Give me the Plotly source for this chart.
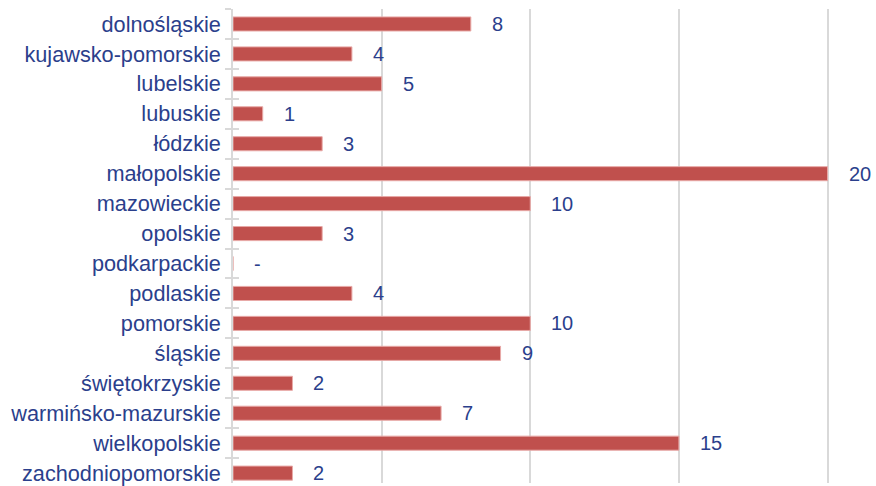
import plotly.graph_objects as go

categories = ["dolnośląskie", "kujawsko-pomorskie", "lubelskie", "lubuskie", "łódzkie",
              "małopolskie", "mazowieckie", "opolskie", "podkarpackie", "podlaskie",
              "pomorskie", "śląskie", "świętokrzyskie", "warmińsko-mazurskie",
              "wielkopolskie", "zachodniopomorskie"]
values = [8, 4, 5, 1, 3, 20, 10, 3, 0, 4, 10, 9, 2, 7, 15, 2]
value_labels = ["8", "4", "5", "1", "3", "20", "10", "3", "-", "4", "10", "9", "2", "7", "15", "2"]

TEXT = "#2b3f8c"
BAR = "#c0504d"
GRID = "#d9d9d9"
FONT = "Liberation Sans, Arial, sans-serif"
YRANGE = [15.33, -0.5]

fig = go.Figure()
fig.add_trace(go.Bar(
    y=categories, x=values, orientation="h", width=0.47,
    marker=dict(color=BAR, line=dict(color="#e8a9a7", width=1)),
    hoverinfo="x+y",
))
# invisible companion trace so the inner half of the crossing tick marks can be drawn
fig.add_trace(go.Scatter(y=categories, x=values, mode="none", yaxis="y2",
                         hoverinfo="skip", showlegend=False))

for cat, v, lab in zip(categories, values, value_labels):
    fig.add_annotation(x=v, y=cat, xref="x", yref="y", text=lab, showarrow=False,
                       xanchor="left", yanchor="middle", xshift=19,
                       font=dict(family=FONT, size=20, color=TEXT))

fig.update_layout(
    width=876, height=486,
    margin=dict(l=233, r=0, t=9, b=0),
    paper_bgcolor="white", plot_bgcolor="white",
    showlegend=False,
    font=dict(family=FONT, size=20, color=TEXT),
    xaxis=dict(range=[0, 21.63], dtick=5, tick0=0, showgrid=True, gridcolor=GRID,
               gridwidth=1.5, showticklabels=False, zeroline=False, ticks="",
               showline=False),
    yaxis=dict(categoryorder="array", categoryarray=categories,
               range=YRANGE, showgrid=False, showline=True, linecolor=GRID,
               linewidth=1.5, ticks="outside", ticklen=6, tickcolor=GRID,
               tickson="boundaries", tickwidth=1.5, ticklabelstandoff=6,
               tickfont=dict(family=FONT, size=21.7, color=TEXT)),
    yaxis2=dict(overlaying="y", anchor="x", side="left", type="category",
                categoryorder="array", categoryarray=categories,
                range=YRANGE, showgrid=False, showline=False, ticks="inside",
                ticklen=6, tickcolor=GRID, tickwidth=1.5, tickson="boundaries",
                showticklabels=False),
)

fig.write_html("out.html", config={"displayModeBar": False},
               post_script="document.body.style.margin='0';document.body.style.overflow='hidden';")
